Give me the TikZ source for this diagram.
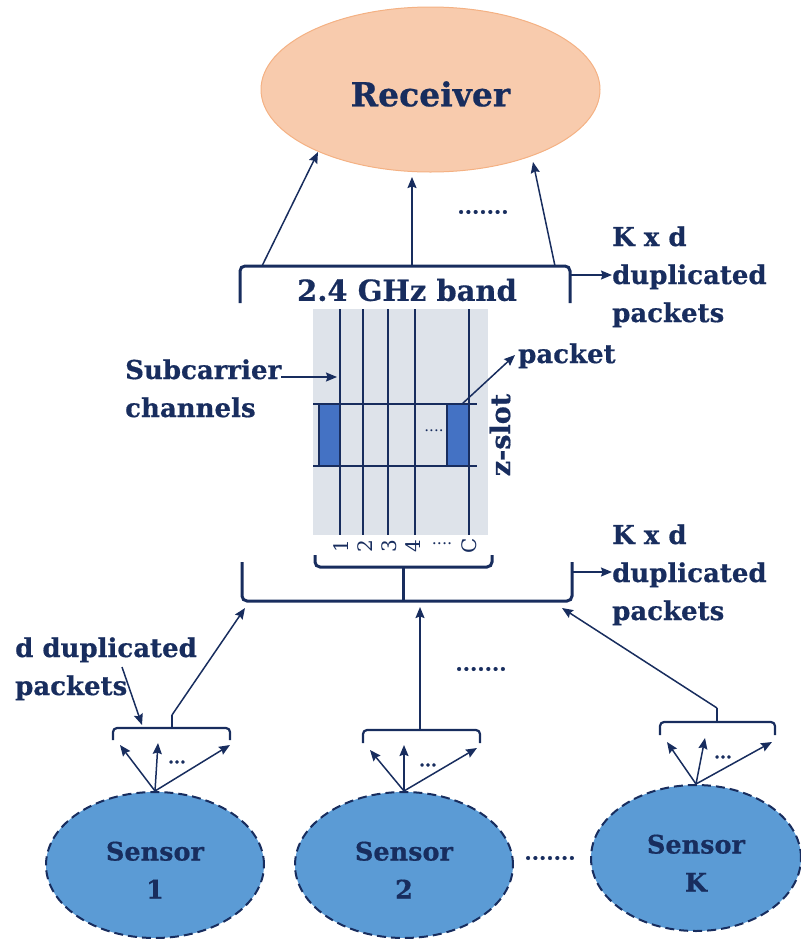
\documentclass[tikz,border=0pt]{standalone}
\usepackage{fontspec}
\setmainfont{DejaVu Serif}[BoldFeatures={FakeBold=0.6}]
\usetikzlibrary{arrows.meta,shapes.geometric}
\definecolor{navy}{HTML}{182D5E}
\definecolor{peach}{HTML}{F8CBAD}
\definecolor{peachline}{HTML}{F4B183}
\definecolor{sensorblue}{HTML}{5B9BD5}
\definecolor{gridbg}{HTML}{DEE3EA}
\definecolor{pktblue}{HTML}{4472C4}

\begin{document}
\begin{tikzpicture}[x=1pt,y=-1pt,
  lbl/.style={text=navy,font=\bfseries\fontsize{26}{38}\selectfont,align=left,inner sep=0pt},
  dots/.style={text=navy,font=\bfseries\fontsize{21}{21}\selectfont,inner sep=0pt},
  fewdots/.style={text=navy,font=\bfseries\fontsize{17}{17}\selectfont,inner sep=0pt},
  conn/.style={navy,line width=1.5pt,-{Stealth[length=11pt,width=9pt,inset=1.5pt]}},
  brace/.style={navy,line width=3pt,rounded corners=5pt},
  grid/.style={navy,line width=2.5pt},
  sensor/.style={ellipse,draw=navy,line width=2pt,dash pattern=on 9pt off 5pt,
    fill=sensorblue,minimum width=218pt,minimum height=146pt,inner sep=0pt,
    text=navy,font=\bfseries\fontsize{25.5}{38}\selectfont,align=center},
  chan/.style={text=navy,font=\fontsize{20}{20}\selectfont,rotate=90,inner sep=0pt}]

\useasboundingbox (0,0) rectangle (801,943);

% receiver
\node[ellipse,fill=peach,draw=peachline,line width=1pt,minimum width=339pt,
  minimum height=165pt,inner sep=0pt,text=navy,
  font=\bfseries\fontsize{33}{33}\selectfont] (rx) at (430.5,89.5) {\rule{0pt}{34pt}Receiver};

% top bracket: the 2.4 GHz band as seen by the receiver
\draw[brace] (240,303) -- (240,266) -- (570,266) -- (570,303);
\coordinate (topL) at (262,266);
\coordinate (topM) at (412,266);
\coordinate (topR) at (555,266);
\coordinate (rxL) at (318,152);
\coordinate (rxM) at (412,177);
\coordinate (rxR) at (533,162);
\draw[conn] (topL) -- (rxL);
\draw[conn] (topM) -- (rxM);
\draw[conn] (topR) -- (rxR);
\node[dots] (rxdots) at (483,212) {.......};

\coordinate (topout) at (570,275);
\node[lbl,anchor=base west] (kd1) at (612,322) {K x d\\duplicated\\packets};
\draw[conn] (topout) -- (kd1.west |- topout);

\node[text=navy,font=\bfseries\fontsize{29}{29}\selectfont,inner sep=0pt] (band) at (407,290) {2.4 GHz band};

% time/frequency grid
\fill[gridbg] (313,309) rectangle (488,535);
\foreach \cx/\nm in {340/c1,363/c2,388/c3,415/c4,469/cC}
  \draw[grid] (\cx,309) coordinate (\nm top) -- (\cx,535) coordinate (\nm);
\filldraw[fill=pktblue,draw=navy,line width=2pt] (319,404) rectangle (340,466);
\filldraw[fill=pktblue,draw=navy,line width=2pt] (447,404) rectangle (469,466);
\draw[grid] (313,404) -- (477,404);
\draw[grid] (313,466) -- (477,466);
\node[text=navy,font=\fontsize{15}{15}\selectfont,inner sep=0pt] (slotdots) at (434,431) {....};
\node[text=navy,font=\bfseries\fontsize{27}{27}\selectfont,rotate=90,inner sep=0pt] (zslot) at (500,435) {z-slot};

\node[chan] (n1) at (341,546) {1};
\node[chan] (n2) at (365,546) {2};
\node[chan] (n3) at (389,546) {3};
\node[chan] (n4) at (413,546) {4};
\node[text=navy,font=\fontsize{16}{16}\selectfont,inner sep=0pt] (nd) at (442,544) {....};
\node[chan] (nC) at (469,546) {C};

\node[lbl,anchor=base west] (sub) at (125,417) {Subcarrier\\channels};
\coordinate (subtip) at (337,377);
\draw[conn] (sub.east |- subtip) -- (subtip);

\coordinate (pkttop) at (462,404);
\node[lbl,anchor=base west] (pkt) at (518,363) {packet};
\draw[conn] (pkttop) -- (515,355) coordinate (pktlbl);

% channel brace and lower bracket
\draw[brace] (315,555) -- (315,567) -- (492,567) -- (492,555);
\draw[brace] (242,562) -- (242,601) -- (572,601) -- (572,562);
\draw[navy,line width=3pt] (403,567) -- (403,601);

\coordinate (botout) at (572,572);
\node[lbl,anchor=base west] (kd2) at (612,620) {K x d\\duplicated\\packets};
\draw[conn] (botout) -- (kd2.west |- botout);

\coordinate (inL) at (245,608);
\coordinate (inM) at (420,607);
\coordinate (inR) at (562,608);
\node[dots] (middots) at (481,669) {.......};

% sensors
\node[sensor] (s1) at (155,865) {\rule{0pt}{29pt}Sensor\\1};
\node[sensor] (s2) at (404,865) {\rule{0pt}{29pt}Sensor\\2};
\node[sensor,minimum width=210pt] (sK) at (696,858) {\rule{0pt}{29pt}Sensor\\K};
\node[dots] (sdots) at (550,858) {.......};

% sensor 1 duplicates
\draw[brace,line width=2.2pt,rounded corners=4pt] (113,740) -- (113,728) -- (230,728) -- (230,740);
\draw[navy,line width=2.2pt] (172,728) -- (172,715) coordinate (st1);
\draw[conn] (s1.north) -- (120,745);
\draw[conn] (s1.north) -- (158,743);
\draw[conn] (s1.north) -- (230,745);
\node[fewdots] (d1) at (177,762) {...};
\draw[conn] (st1) -- (inL);

\node[lbl,anchor=base west] (dd) at (15,695) {d duplicated\\packets};
\draw[conn] (122,667) coordinate (ddtail) -- (142,725);

% sensor 2 duplicates
\draw[brace,line width=2.2pt,rounded corners=4pt] (363,743) -- (363,730) -- (480,730) -- (480,743);
\coordinate (st2) at (420,730);
\draw[conn] (s2.north) -- (370,750);
\draw[conn] (s2.north) -- (404,745);
\draw[conn] (s2.north) -- (477,748);
\node[fewdots] (d2) at (428,765) {...};
\draw[conn] (st2) -- (inM);

% sensor K duplicates
\draw[brace,line width=2.2pt,rounded corners=4pt] (660,735) -- (660,722) -- (775,722) -- (775,735);
\draw[navy,line width=2.2pt] (717,722) -- (717,708) coordinate (stK);
\draw[conn] (sK.north) -- (667,742);
\draw[conn] (sK.north) -- (705,738);
\draw[conn] (sK.north) -- (772,742);
\node[fewdots] (dK) at (723,757) {...};
\draw[conn] (stK) -- (inR);
\end{tikzpicture}
\end{document}
